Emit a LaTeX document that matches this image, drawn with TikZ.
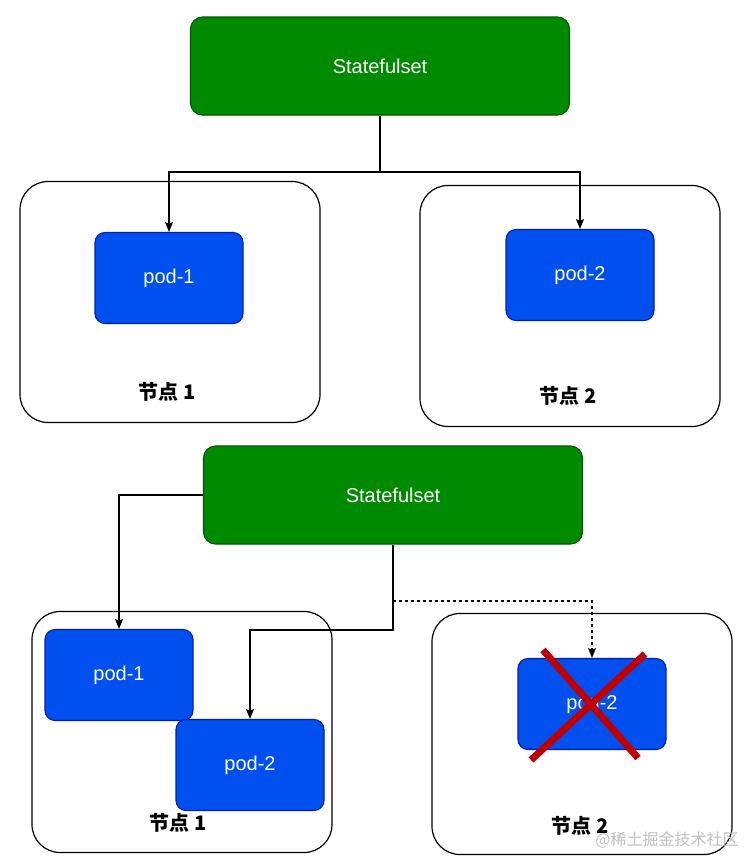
\documentclass[tikz,border=0pt]{standalone}
\usepackage{fontspec}
\setmainfont{Liberation Sans}
\newfontfamily\cjk{Noto Sans CJK SC}
\usetikzlibrary{arrows.meta, calc}

\definecolor{setgreen}{HTML}{008A00}
\definecolor{setgreenline}{HTML}{005700}
\definecolor{podblue}{HTML}{0050EF}
\definecolor{podblueline}{HTML}{001DBC}
\definecolor{crossred}{HTML}{C00000}

\begin{document}
\begin{tikzpicture}[x=1pt, y=-1pt, >={Stealth[length=10pt, width=8pt, inset=2pt]}, line width=1.1pt,
  setbox/.style = {shape=rectangle, rounded corners=12pt, draw=setgreenline, fill=setgreen,
    text=white, font=\fontsize{20}{22}\selectfont, minimum width=379pt, minimum height=98pt},
  podbox/.style = {shape=rectangle, rounded corners=10pt, draw=podblueline, fill=podblue,
    text=white, font=\fontsize{20}{22}\selectfont, minimum width=148pt, minimum height=91pt},
  hostbox/.style = {shape=rectangle, rounded corners=28pt, draw, line width=1.2pt,
    minimum width=300pt, minimum height=241pt},
  hostlabel/.style = {font=\cjk\bfseries\fontsize{20}{22}\selectfont}]

  \useasboundingbox (0,0) rectangle (744,860);

  \node[hostbox] (host1) at (170,302) {};
  \node[hostbox] (host2) at (570,306) {};
  \node[setbox] (ss1) at (380,66) {Statefulset};
  \node[podbox] (pod1) at (169,278) {pod-1};
  \node[podbox] (pod2) at (580,275) {pod-2};
  \node[hostlabel] (lbl1) at (167,392) {节点 1};
  \node[hostlabel] (lbl2) at (568,396) {节点 2};

  \coordinate (fork) at (380,172);
  \draw (ss1.south) -- (fork);
  \draw[->] (fork) -| (pod1.north);
  \draw[->] (fork) -| (pod2.north);

  \node[hostbox] (host3) at (182,732) {};
  \node[hostbox] (host4) at (582,734) {};
  \node[setbox] (ss2) at (393,495) {Statefulset};
  \node[podbox] (pod1b) at (119,675) {pod-1};
  \node[podbox] (pod2b) at (250,765) {pod-2};
  \node[podbox] (pod2x) at (592,704) {pod-2};
  \node[hostlabel] (lbl3) at (178,823) {节点 1};
  \node[hostlabel] (lbl4) at (580,826) {节点 2};

  \coordinate (split) at (393,601);
  \coordinate (bend) at (393,630);
  \draw[->] (ss2.west) -| (pod1b.north);
  \draw[->] (ss2.south) -- (bend) -| (pod2b.north);
  \draw[dashed, ->] (split) -| (pod2x.north);

  \draw[crossred, line width=7pt] (543,650) -- (638,758);
  \draw[crossred, line width=7pt] (645,654) -- (531,760);

  \node[font=\cjk\fontsize{16}{18}\selectfont, text=black!25] (mark) at (667,840) {@稀土掘金技术社区};
\end{tikzpicture}
\end{document}
